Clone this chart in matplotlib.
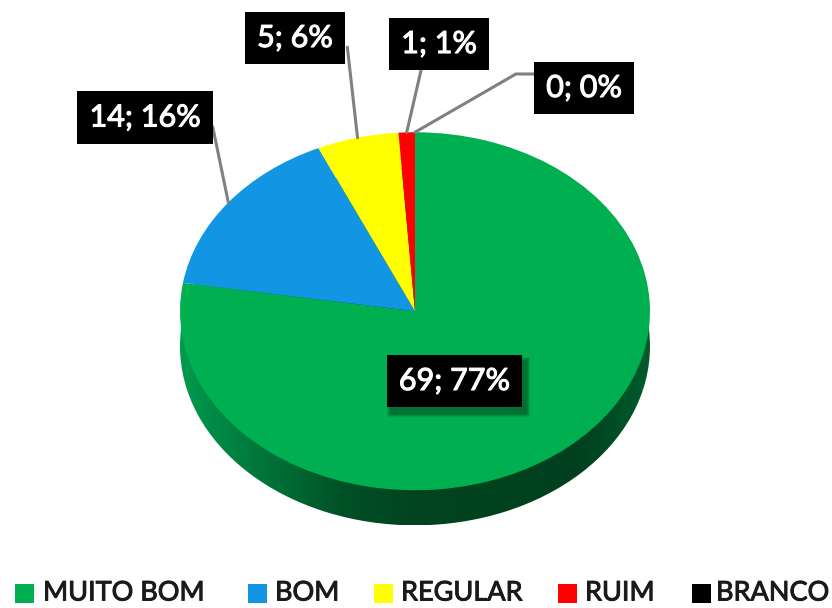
import matplotlib
matplotlib.use("Agg")
import matplotlib.pyplot as plt
import matplotlib.patheffects as pe
import numpy as np
from matplotlib.colors import LinearSegmentedColormap
from matplotlib.patches import Rectangle

categories = ["MUITO BOM", "BOM", "REGULAR", "RUIM", "BRANCO"]
values = [69, 14, 5, 1, 0]
percents = [77, 16, 6, 1, 0]
colors = ["#00b050", "#1295e2", "#ffff00", "#ff0000", "#000000"]

W, H = 832, 608
plt.rcParams['font.family'] = ['Lato', 'DejaVu Sans']

fig = plt.figure(figsize=(W / 100, H / 100), dpi=100)
# aspect left free so the circle gets squashed into the ellipse
ax = fig.add_axes([180 / W, 1 - 535 / H, 470 / W, 358 * 1.125 / H])

depth = 0.196

# side of the pie, a dark gradient clipped to the shifted ellipse
side = LinearSegmentedColormap.from_list("side", [(0, "#009a4e"), (0.15, "#007a3c"), (0.35, "#005026"),
                                                  (0.5, "#00441f"), (0.85, "#00401e"), (1, "#005c2c")])
wedges, _ = ax.pie([1], radius=1, center=(0, -depth), colors=["none"], frame=True)
im = ax.imshow(np.linspace(0, 1, 256).reshape(1, -1), extent=(-1, 1, -1 - depth, 1 - depth),
               cmap=side, aspect='auto', zorder=1)
im.set_clip_path(wedges[0])

pie_wedges, _ = ax.pie(values, colors=colors, startangle=90, counterclock=False,
                       radius=1, frame=True, wedgeprops=dict(zorder=2))
ax.set_aspect('auto')
ax.set_xlim(-1, 1)
ax.set_ylim(-1.25, 1)
ax.axis('off')

# soft shadow under the big label, a few see-through boxes
for grow in [8, 6, 4, 2]:
    fig.add_artist(Rectangle(((387 + 4 - grow / 2) / W, 1 - (407 + 6 + grow / 2) / H),
                             (135 + grow) / W, (52 + grow) / H, transform=fig.transFigure,
                             fc="black", ec="none", alpha=0.1, zorder=4))

# label centres in pixels and where the leader leaves the box
label_pos = [(454.5, 381), (145, 117.5), (295, 38), (439, 44), (584, 88)]
leader_rel = [None, (1.11, 0.17), (1.19, 0.17), (0.27, -0.35), (0, 1.0)]
leader_style = [None, "arc3", "arc3", "arc3", "angle,angleA=0,angleB=30,rad=0"]
box = dict(boxstyle="square,pad=0.4", fc="black", ec="none")
bold = [pe.withStroke(linewidth=0.8, foreground="white")]
for i, w in enumerate(pie_wedges):
    txt = "%d; %d%%" % (values[i], percents[i])
    xy = (label_pos[i][0] / W, 1 - label_pos[i][1] / H)
    ang = np.deg2rad((w.theta1 + w.theta2) / 2)
    if i == 0:
        t = fig.text(xy[0], xy[1], txt, color="white", fontsize=22,
                     ha="center", va="center", bbox=box, zorder=5)
    else:
        t = ax.annotate(txt, xy=(np.cos(ang), np.sin(ang)), xytext=xy, textcoords="figure fraction",
                        color="white", fontsize=22, ha="center", va="center",
                        bbox=box, zorder=5, annotation_clip=False,
                        arrowprops=dict(arrowstyle="-", color="#808080", lw=2.2, shrinkA=0, shrinkB=0,
                                        relpos=leader_rel[i], connectionstyle=leader_style[i]))
    t.set_path_effects(bold)

# legend, spaced by hand as in the original
leg_square = [15, 248, 374, 558, 692]
leg_text = [43, 275, 401, 585, 716]
for i, name in enumerate(categories):
    fig.add_artist(Rectangle((leg_square[i] / W, 1 - 603 / H), 19 / W, 19 / H,
                             transform=fig.transFigure, fc=colors[i], ec="none"))
    fig.text(leg_text[i] / W, 1 - 593 / H, name, color="#1a1a1a", fontsize=19.5,
             ha="left", va="center", path_effects=[pe.withStroke(linewidth=0.7, foreground="#1a1a1a")])

fig.savefig("out.png", dpi=100)
